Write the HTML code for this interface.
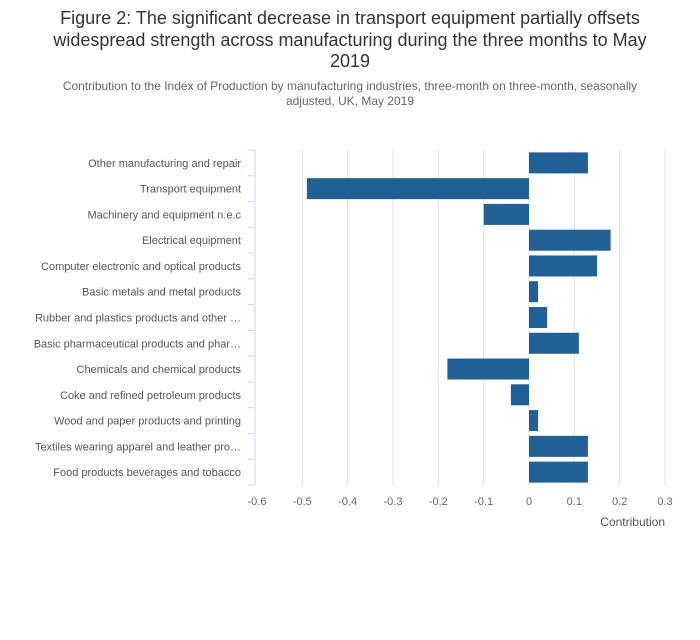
<!DOCTYPE html>
<html><head><meta charset="utf-8"><style>
body{margin:0;background:#fff;font-family:"Liberation Sans",sans-serif;}
</style></head><body>
<svg width="700" height="635" xmlns="http://www.w3.org/2000/svg" id="chart">
<text x="350" y="24" text-anchor="middle" font-size="18" fill="#333">Figure 2: The significant decrease in transport equipment partially offsets</text>
<text x="350" y="46" text-anchor="middle" font-size="18" fill="#333">widespread strength across manufacturing during the three months to May</text>
<text x="350" y="67" text-anchor="middle" font-size="18" fill="#333">2019</text>
<text x="350" y="90" text-anchor="middle" font-size="12" fill="#666">Contribution to the Index of Production by manufacturing industries, three-month on three-month, seasonally</text>
<text x="350" y="105" text-anchor="middle" font-size="12" fill="#666">adjusted, UK, May 2019</text>
<g id="grid"></g><g id="bars"></g><g id="axes"></g>
<text x="665" y="526" text-anchor="end" font-size="12" fill="#555">Contribution</text>
</svg>
<script>
const categories=["Other manufacturing and repair","Transport equipment","Machinery and equipment n.e.c","Electrical equipment","Computer electronic and optical products","Basic metals and metal products","Rubber and plastics products and other …","Basic pharmaceutical products and phar…","Chemicals and chemical products","Coke and refined petroleum products","Wood and paper products and printing","Textiles wearing apparel and leather pro…","Food products beverages and tobacco"];
const values=[0.13,-0.49,-0.10,0.18,0.15,0.02,0.04,0.11,-0.18,-0.04,0.02,0.13,0.13];
const ticks=[-0.6,-0.5,-0.4,-0.3,-0.2,-0.1,0,0.1,0.2,0.3];
const tickLabels=["-0.6","-0.5","-0.4","-0.3","-0.2","-0.1","0","0.1","0.2","0.3"];
const NS="http://www.w3.org/2000/svg";
const x0=257,x1=665,plotTop=150,plotBot=485;
const xs=v=>x0+(v+0.6)/0.9*(x1-x0);
const band=(plotBot-plotTop)/categories.length;
function mk(t,a,p){const e=document.createElementNS(NS,t);for(const k in a)e.setAttribute(k,a[k]);document.getElementById(p).appendChild(e);return e;}
ticks.forEach((t,i)=>{
 if(t!==-0.6){const g=mk('line',{x1:xs(t),x2:xs(t),y1:plotTop,y2:plotBot,stroke:'#e3e3e3','stroke-width':1},'grid');
 
 }
 const l=mk('text',{x:xs(t),y:505,'text-anchor':'middle','font-size':11,fill:'#666'},'axes');l.textContent=tickLabels[i];
 
 
});
const ax=mk('line',{x1:255,x2:255,y1:plotTop,y2:plotBot,stroke:'#ccd6eb','stroke-width':1},'axes');


for(let i=0;i<=categories.length;i++){const y=plotTop+i*band;const tk=mk('line',{x1:248,x2:255,y1:y,y2:y,stroke:'#ccd6eb'},'axes');
 
 }
categories.forEach((c,i)=>{
 const cy=plotTop+(i+0.5)*band;
 const l=mk('text',{x:241,y:cy+4,'text-anchor':'end','font-size':11,fill:'#555'},'axes');l.textContent=c;
 
 
 const v=values[i],a=xs(0),b=xs(v);
 const r=mk('rect',{x:Math.min(a,b),y:cy-10.5,width:Math.abs(b-a),height:21,fill:'#206095'},'bars');
 
 
});
</script>
</body></html>
